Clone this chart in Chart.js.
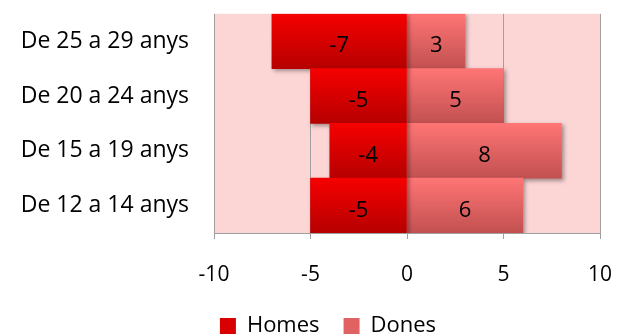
<!DOCTYPE html>
<html>
<head>
<meta charset="utf-8">
<script src="https://cdn.jsdelivr.net/npm/chart.js@4/dist/chart.umd.min.js"></script>
<style>
  html, body { margin: 0; padding: 0; background: #fff; }
  #wrap { width: 617px; height: 335px; }
</style>
</head>
<body>
<div id="wrap"><canvas id="chart"></canvas></div>
<script>
// Age groups, top row first
const groups = ['De 25 a 29 anys', 'De 20 a 24 anys', 'De 15 a 19 anys', 'De 12 a 14 anys'];
const homes = [-7, -5, -4, -5];
const dones = [3, 5, 8, 6];
const xTicks = [-10, -5, 0, 5, 10];

const FONT = "'Open Sans', sans-serif";

// vertical gradient for one bar row
function rowGradient(ctx, top, bottom) {
  const chart = ctx.chart;
  const y = chart.scales.y;
  if (!y || y.bottom === undefined) return top;
  const half = (y.bottom - y.top) / groups.length / 2;
  const c = y.getPixelForValue(ctx.dataIndex);
  const g = chart.ctx.createLinearGradient(0, c - half, 0, c + half);
  g.addColorStop(0, top);
  g.addColorStop(1, bottom);
  return g;
}

const plotBg = {
  id: 'plotBg',
  beforeDraw(chart) {
    const a = chart.chartArea;
    const c = chart.ctx;
    c.save();
    c.fillStyle = '#fcd5d5';
    c.fillRect(a.left, a.top, a.right - a.left, a.bottom - a.top);
    c.restore();
  }
};

// nudge the legend a bit right of the canvas centre
const legendShift = {
  id: 'legendShift',
  afterLayout(chart) {
    if (chart.legend) chart.legend.left += 56;
  }
};

// soft drop shadow under the bars, then the value labels on top
const barExtras = {
  id: 'barExtras',
  beforeDatasetsDraw(chart) {
    const c = chart.ctx;
    c.save();
    c.shadowColor = 'rgba(0,0,0,0.35)';
    c.shadowBlur = 4;
    c.shadowOffsetX = 2;
    c.shadowOffsetY = 2;
  },
  afterDatasetsDraw(chart) {
    const c = chart.ctx;
    c.restore();
    c.save();
    c.font = '22px ' + FONT;
    c.fillStyle = '#000';
    c.textAlign = 'center';
    c.textBaseline = 'middle';
    chart.data.datasets.forEach((ds, i) => {
      chart.getDatasetMeta(i).data.forEach((bar, j) => {
        c.fillText(String(ds.data[j]), (bar.x + bar.base) / 2, bar.y + 5);
      });
    });
    c.restore();
  }
};

new Chart(document.getElementById('chart'), {
  type: 'bar',
  data: {
    labels: groups,
    datasets: [
      {
        label: 'Homes',
        data: homes,
        backgroundColor: ctx => rowGradient(ctx, '#f60000', '#b60000'),
        borderWidth: 0,
        barPercentage: 1,
        categoryPercentage: 1
      },
      {
        label: 'Dones',
        data: dones,
        backgroundColor: ctx => rowGradient(ctx, '#ff7575', '#c25050'),
        borderWidth: 0,
        barPercentage: 1,
        categoryPercentage: 1
      }
    ]
  },
  options: {
    indexAxis: 'y',
    responsive: true,
    maintainAspectRatio: false,
    animation: false,
    layout: { padding: { left: 0, right: 17, top: 12, bottom: -12 } },
    scales: {
      x: {
        stacked: true,
        min: -10,
        max: 10,
        afterBuildTicks: s => { s.ticks = xTicks.map(v => ({ value: v })); },
        afterFit: s => { s.height = 58; s.paddingLeft = 0; s.paddingRight = 0; },
        grid: { color: '#a0a0a0', tickLength: 6 },
        border: { color: '#a0a0a0' },
        ticks: { color: '#000', font: { family: FONT, size: 21 }, padding: 23 }
      },
      y: {
        stacked: true,
        grid: { display: false, drawTicks: true, tickLength: 25 },
        border: { display: false },
        afterFit: s => { s.width = 214; },
        ticks: { color: '#000', font: { family: FONT, size: 23 }, padding: 0 }
      }
    },
    plugins: {
      legend: {
        position: 'bottom',
        labels: {
          color: '#000',
          font: { family: FONT, size: 22 },
          boxWidth: 16,
          boxHeight: 16,
          padding: 24,
          generateLabels: chart => [
            { text: 'Homes', fillStyle: '#d80000', strokeStyle: '#d80000', lineWidth: 0, datasetIndex: 0 },
            { text: 'Dones', fillStyle: '#e06262', strokeStyle: '#e06262', lineWidth: 0, datasetIndex: 1 }
          ]
        }
      },
      tooltip: { enabled: false }
    }
  },
  plugins: [plotBg, legendShift, barExtras]
});
</script>
</body>
</html>
